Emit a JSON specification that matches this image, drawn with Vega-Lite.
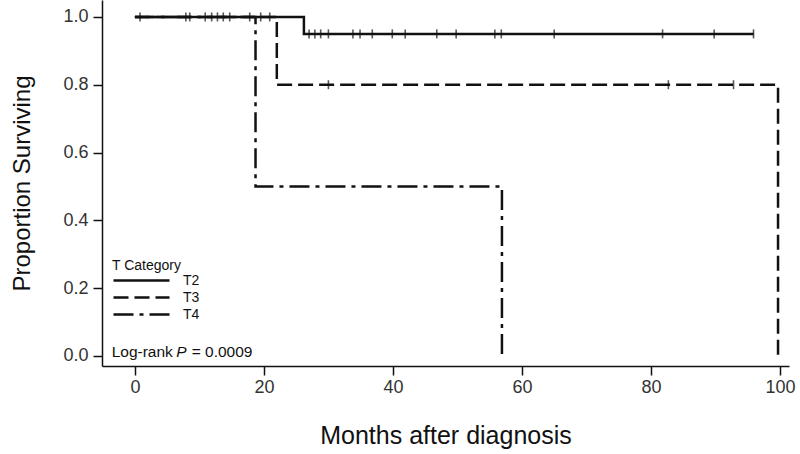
{
  "$schema": "https://vega.github.io/schema/vega-lite/v6.json",
  "autosize": {"type": "none"},
  "padding": {"left": 102, "top": 0, "right": 11, "bottom": 88},
  "width": 687,
  "height": 366,
  "background": "white",
  "config": {
    "view": {"stroke": null},
    "font": "Liberation Sans",
    "axis": {
      "grid": false,
      "domainColor": "#111",
      "domainWidth": 1.5,
      "tickColor": "#111",
      "tickWidth": 1.5,
      "tickSize": 9,
      "labelColor": "#333",
      "labelFont": "Liberation Sans",
      "labelFontSize": 18,
      "titleColor": "#111",
      "titleFont": "Liberation Sans",
      "titleFontWeight": "normal"
    }
  },
  "datasets": {
    "curves": [
      {"cat": "T2", "month": 0, "surv": 1.0},
      {"cat": "T2", "month": 26.2, "surv": 0.95},
      {"cat": "T2", "month": 95.9, "surv": 0.95},
      {"cat": "T3", "month": 0, "surv": 1.0},
      {"cat": "T3", "month": 22.0, "surv": 0.8},
      {"cat": "T3", "month": 99.7, "surv": 0.8},
      {"cat": "T3", "month": 99.7, "surv": 0.0},
      {"cat": "T4", "month": 0, "surv": 1.0},
      {"cat": "T4", "month": 18.7, "surv": 0.5},
      {"cat": "T4", "month": 56.9, "surv": 0.0}
    ],
    "censor": [
      {"cat": "T2", "month": 0.8, "surv": 1.0},
      {"cat": "T2", "month": 7.9, "surv": 1.0},
      {"cat": "T2", "month": 8.5, "surv": 1.0},
      {"cat": "T2", "month": 10.9, "surv": 1.0},
      {"cat": "T2", "month": 11.9, "surv": 1.0},
      {"cat": "T2", "month": 12.8, "surv": 1.0},
      {"cat": "T2", "month": 13.7, "surv": 1.0},
      {"cat": "T2", "month": 14.7, "surv": 1.0},
      {"cat": "T2", "month": 17.8, "surv": 1.0},
      {"cat": "T2", "month": 19.5, "surv": 1.0},
      {"cat": "T2", "month": 20.9, "surv": 1.0},
      {"cat": "T2", "month": 27.0, "surv": 0.95},
      {"cat": "T2", "month": 27.9, "surv": 0.95},
      {"cat": "T2", "month": 28.8, "surv": 0.95},
      {"cat": "T2", "month": 30.0, "surv": 0.95},
      {"cat": "T2", "month": 33.8, "surv": 0.95},
      {"cat": "T2", "month": 34.9, "surv": 0.95},
      {"cat": "T2", "month": 36.8, "surv": 0.95},
      {"cat": "T2", "month": 39.9, "surv": 0.95},
      {"cat": "T2", "month": 41.9, "surv": 0.95},
      {"cat": "T2", "month": 46.8, "surv": 0.95},
      {"cat": "T2", "month": 49.8, "surv": 0.95},
      {"cat": "T2", "month": 55.8, "surv": 0.95},
      {"cat": "T2", "month": 56.8, "surv": 0.95},
      {"cat": "T2", "month": 65.0, "surv": 0.95},
      {"cat": "T2", "month": 81.8, "surv": 0.95},
      {"cat": "T2", "month": 89.8, "surv": 0.95},
      {"cat": "T2", "month": 95.9, "surv": 0.95},
      {"cat": "T3", "month": 30.0, "surv": 0.8},
      {"cat": "T3", "month": 82.7, "surv": 0.8},
      {"cat": "T3", "month": 92.8, "surv": 0.8}
    ],
    "notes": [
      {"part": "Log-rank", "month": -3.6, "surv": 0.011},
      {"part": "P", "month": 6.4, "surv": 0.011},
      {"part": "= 0.0009", "month": 8.8, "surv": 0.011}
    ]
  },
  "layer": [
    {
      "data": {"name": "curves"},
      "mark": {"type": "line", "interpolate": "step-after", "strokeWidth": 2.5, "color": "#111"},
      "encoding": {
        "x": {
          "field": "month", "type": "quantitative",
          "scale": {"domain": [-5.1, 101.4], "nice": false, "zero": false},
          "axis": {"values": [0, 20, 40, 60, 80, 100], "title": "Months after diagnosis", "titleFontSize": 25, "titlePadding": 27, "labelPadding": 3}
        },
        "y": {
          "field": "surv", "type": "quantitative",
          "scale": {"domain": [-0.03, 1.05], "nice": false, "zero": false},
          "axis": {"values": [0, 0.2, 0.4, 0.6, 0.8, 1.0], "format": ".1f", "title": "Proportion Surviving", "titleFontSize": 24, "titlePadding": 28, "labelPadding": 5}
        },
        "strokeDash": {
          "field": "cat", "type": "nominal",
          "scale": {"domain": ["T2", "T3", "T4"], "range": [[1, 0], [15, 6], [20, 6, 4, 6]]},
          "legend": {
            "title": "T Category",
            "orient": "none",
            "legendX": 10,
            "legendY": 259,
            "symbolType": "M-4,0H4",
            "symbolSize": 196,
            "symbolStrokeWidth": 2.5,
            "symbolStrokeColor": "#111",
            "symbolOffset": 21,
            "labelOffset": 33,
            "labelFontSize": 14,
            "labelColor": "#111",
            "titleFontSize": 14,
            "titleFontWeight": "normal",
            "titleColor": "#111",
            "titlePadding": -1,
            "rowPadding": 1
          }
        }
      }
    },
    {
      "data": {"name": "censor"},
      "mark": {"type": "tick", "orient": "vertical", "size": 9, "thickness": 1.6, "color": "#111"},
      "encoding": {
        "x": {"field": "month", "type": "quantitative"},
        "y": {"field": "surv", "type": "quantitative"}
      }
    },
    {
      "data": {"name": "notes"},
      "transform": [{"filter": "datum.part !== 'P'"}],
      "mark": {"type": "text", "align": "left", "baseline": "middle", "fontSize": 15.5, "color": "#111"},
      "encoding": {
        "x": {"field": "month", "type": "quantitative"},
        "y": {"field": "surv", "type": "quantitative"},
        "text": {"field": "part"}
      }
    },
    {
      "data": {"name": "notes"},
      "transform": [{"filter": "datum.part === 'P'"}],
      "mark": {"type": "text", "align": "left", "baseline": "middle", "fontSize": 15.5, "fontStyle": "italic", "color": "#111"},
      "encoding": {
        "x": {"field": "month", "type": "quantitative"},
        "y": {"field": "surv", "type": "quantitative"},
        "text": {"field": "part"}
      }
    }
  ]
}
